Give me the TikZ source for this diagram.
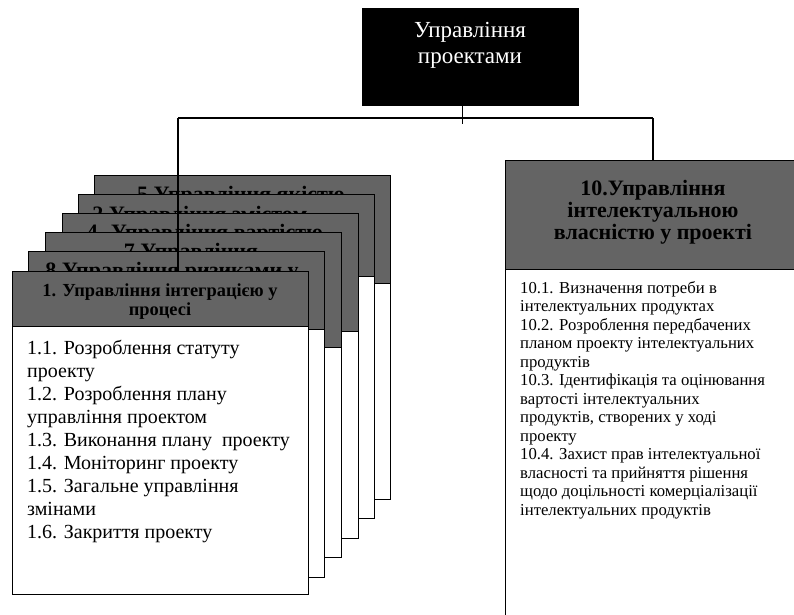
\documentclass[tikz,border=0pt]{standalone}
\usepackage{fontspec}
\setmainfont{Liberation Serif}
\definecolor{hdr}{RGB}{100,100,100}
\tikzset{
  frame/.style={draw=black, line width=1.1pt, anchor=north west, inner sep=0pt},
  cardbody/.style={frame, fill=white, minimum width=296pt},
  cardhead/.style={frame, fill=hdr, minimum width=296pt},
  headtxt/.style={anchor=base, inner sep=0pt, font=\bfseries\fontsize{22}{24}\selectfont},
  link/.style={draw=black, line width=1.1pt},
}
\begin{document}
\begin{tikzpicture}[x=1pt, y=-1pt]
\clip (0,0) rectangle (794,614);

% root box
\node[frame, fill=black, minimum width=216pt, minimum height=97pt] (root) at (362,8) {};
\node[anchor=base, inner sep=0pt, text=white] (roottxt) at (470,37)
  {\parbox[t]{210pt}{\centering\fontsize{23}{26}\selectfont Управління\\проектами}};

% bus
\coordinate (busL) at (178,118);
\coordinate (busR) at (653,118);
\draw[link] ([xshift=-8pt]root.south) -- ++(0,18);
\draw[link] (busL) -- (busR);

% stacked cards, back to front
\node[cardbody, minimum height=324pt] (c5) at (94,175) {};
\node[cardhead, minimum height=108pt] (c5h) at (94,175) {};
\node[headtxt] (c5t) at (241,201) {5.Управління якістю};

\node[cardbody, minimum height=324pt] (c2) at (78,194) {};
\node[cardhead, minimum height=82pt] (c2h) at (78,194) {};
\node[headtxt] (c2t) at (200,221) {2.Управління змістом};

\node[cardbody, minimum height=325pt] (c4) at (62,213) {};
\node[cardhead, minimum height=118pt] (c4h) at (62,213) {};
\node[headtxt] (c4t) at (205,239) {4. Управління вартістю};

\node[cardbody, minimum height=325pt] (c7) at (45,232) {};
\node[cardhead, minimum height=115pt] (c7h) at (45,232) {};
\node[headtxt] (c7t) at (191,258) {7.Управління};

\node[cardbody, minimum height=326pt] (c8) at (28,251) {};
\node[cardhead, minimum height=78pt] (c8h) at (28,251) {};
\node[headtxt] (c8t) at (172,277) {8.Управління ризиками у};

% front card
\node[cardbody, minimum height=323pt] (c1) at (12,271) {};
\node[cardhead, minimum height=55pt] (c1h) at (12,271) {};
\draw[link] (busL) -- (busL |- c1h.north);
\node[anchor=base, inner sep=0pt] (c1t) at (160,296)
  {\parbox[t]{290pt}{\centering\bfseries\fontsize{18.4}{19.5}\selectfont
   1. Управління інтеграцією у\\процесі}};
\node[anchor=base west, inner sep=0pt] (c1b) at (27,354)
  {\parbox[t]{280pt}{\raggedright\fontsize{20}{23}\selectfont
   1.1. Розроблення статуту\\
   проекту\\
   1.2. Розроблення плану\\
   управління проектом\\
   1.3. Виконання плану\ \ проекту\\
   1.4. Моніторинг проекту\\
   1.5. Загальне управління\\
   змінами\\
   1.6. Закриття проекту}};

% right card
\node[cardbody, minimum height=470pt] (c10) at (505,160) {};
\node[cardhead, minimum height=109pt] (c10h) at (505,160) {};
\draw[link] (busR) -- (busR |- c10h.north);
\node[anchor=base, inner sep=0pt] (c10t) at (653,195)
  {\parbox[t]{290pt}{\centering\bfseries\fontsize{22}{22}\selectfont
   10.Управління\\інтелектуальною\\власністю у проекті}};
\node[anchor=base west, inner sep=0pt] (c10b) at (520,293)
  {\parbox[t]{280pt}{\raggedright\fontsize{16.7}{18.5}\selectfont
   10.1. Визначення потреби в\\
   інтелектуальних продуктах\\
   10.2. Розроблення передбачених\\
   планом проекту інтелектуальних\\
   продуктів\\
   10.3. Ідентифікація та оцінювання\\
   вартості інтелектуальних\\
   продуктів, створених у ході\\
   проекту\\
   10.4. Захист прав інтелектуальної\\
   власності та прийняття рішення\\
   щодо доцільності комерціалізації\\
   інтелектуальних продуктів}};
\end{tikzpicture}
\end{document}
